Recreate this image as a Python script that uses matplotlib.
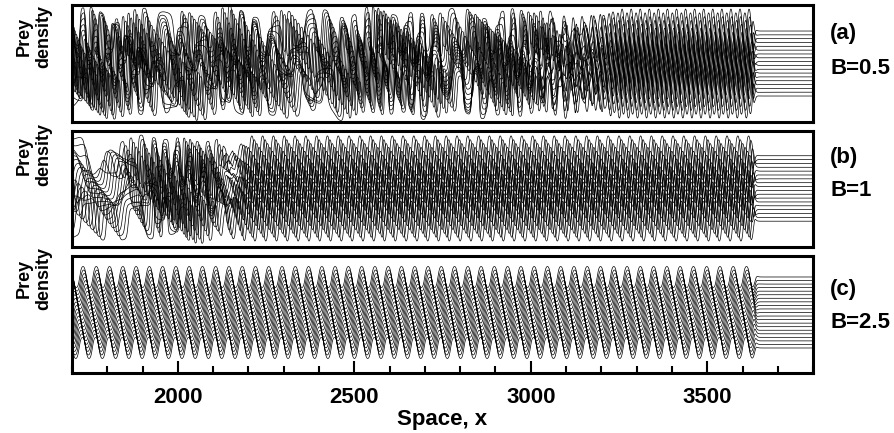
import numpy as np
import matplotlib
matplotlib.use("Agg")
import matplotlib.pyplot as plt
from matplotlib.ticker import MultipleLocator

plt.rcParams['font.family'] = ['Liberation Sans', 'DejaVu Sans']
plt.rcParams['font.weight'] = 'bold'

# labels
panel_tags = ["(a)", "(b)", "(c)"]
b_labels = ["B=0.5", "B=1", "B=2.5"]
x_ticks = [2000, 2500, 3000, 3500]

# curves per panel, flat (pre-invasion) levels of lowest / highest curve,
# wave half-amplitude and invasion front position
n_curves = [18, 18, 21]
flat_low = [26, 26, 25]
flat_high = [91, 92, 96]
wave_amp = [22, 20, 10.5]
front_x = [3632, 3632, 3636]

# where the regular periodic wave train takes over, its wavelength and per-curve lag
reg_start = [3000, 2100, 1600]
reg_end = [3250, 2200, 1700]
reg_lam = [25.7, 30.6, 37.6]
reg_lag = [3.4, 1.4, 0.3]

# irregular zone: local wavelength, irregularity and per-curve phase lag along x
seg_a_x = [1700, 1900, 1960, 2000, 2060, 2130, 2200, 2340, 2420, 2540, 2700, 2780, 2860, 2960, 3800]
seg_a_lam = [26, 28, 45, 30, 40, 28, 27, 50, 40, 26, 27, 45, 28, 26, 26]
seg_a_dis = [1.0, 1.0, 0.7, 1.0, 0.8, 1.0, 1.0, 0.8, 0.8, 1.0, 1.0, 0.7, 1.0, 0.9, 0.9]
seg_a_lag = [0.7] * 15

seg_b_x = [1700, 1850, 1950, 2100, 3800]
seg_b_lam = [110, 100, 27, 30, 30]
seg_b_dis = [0.8, 0.8, 1.0, 0.8, 0.8]
seg_b_lag = [0.35, 0.35, 0.8, 1.2, 1.2]

seg_c_x = [1700, 3800]
seg_c_lam = [37.6, 37.6]
seg_c_dis = [0.0, 0.0]
seg_c_lag = [0.3, 0.3]

segments = [
    (seg_a_x, seg_a_lam, seg_a_dis, seg_a_lag),
    (seg_b_x, seg_b_lam, seg_b_dis, seg_b_lag),
    (seg_c_x, seg_c_lam, seg_c_dis, seg_c_lag),
]

x = np.linspace(1700, 3800, 8000)
dx = x[1] - x[0]


def panel_curves(i):
    sx, slam, sdis, slag = segments[i]
    lam = np.interp(x, sx, slam)
    lag = np.interp(x, sx, slag)
    m = np.clip((x - reg_start[i]) / (reg_end[i] - reg_start[i]), 0, 1)
    dis = np.interp(x, sx, sdis) * (1 - m)
    base_irr = 2 * np.pi * np.cumsum(1 / lam) * dx
    base_reg = 2 * np.pi * x / reg_lam[i]
    w = 0.5 * (1 - np.tanh((x - front_x[i]) / 5))
    offs = np.linspace(flat_low[i], flat_high[i], n_curves[i])
    out = []
    for k, off in enumerate(offs):
        wob = (2.5 * np.sin(2 * np.pi * x / 230 + 0.35 * k)
               + 1.6 * np.sin(2 * np.pi * x / 140 + 0.55 * k + 1)
               + 1.0 * np.sin(2 * np.pi * x / 90 + 0.8 * k + 2))
        th = base_irr + k * lag + dis * wob
        sharp = 1 + 1.2 * dis
        wave_irr = np.tanh(sharp * np.cos(th)) / np.tanh(sharp)
        wave_reg = np.tanh(np.cos(base_reg + k * reg_lag[i])) / np.tanh(1)
        wave = (1 - m) * wave_irr + m * wave_reg
        amp = wave_amp[i] * (1 - 0.3 * dis * (0.5 + 0.5 * np.sin(2 * np.pi * x / 131 + 0.5 * k)))
        drift = 0.15 * wave_amp[i] * dis * np.sin(2 * np.pi * x / 211 + 0.4 * k)
        out.append(off + w * (amp * wave + drift))
    return out


fig = plt.figure(figsize=(8.94, 4.33), dpi=100)
rects = [[0.0805, 0.7182, 0.829, 0.2702],
         [0.0805, 0.4296, 0.829, 0.268],
         [0.0805, 0.1386, 0.829, 0.2702]]
label_y = [36, 155, 278]
tag_y = [33, 157, 289]
bval_y = [68, 190, 323]

for i in range(3):
    ax = fig.add_axes(rects[i])
    for y in panel_curves(i):
        ax.plot(x, y, color='black', lw=0.5)
    ax.set_xlim(1700, 3800)
    ax.set_ylim(0, 117)
    ax.set_yticks([])
    for s in ax.spines.values():
        s.set_linewidth(2.2)
    if i < 2:
        ax.set_xticks([])
    else:
        ax.set_xticks(x_ticks)
        ax.xaxis.set_minor_locator(MultipleLocator(100))
        ax.tick_params(axis='x', which='major', direction='in', length=9, width=1.5,
                       labelsize=16, pad=10)
        ax.tick_params(axis='x', which='minor', direction='in', length=5, width=1.5)
        ax.set_xlabel("Space, x", fontsize=16, fontweight='bold', labelpad=1)
    fig.text(24 / 894, 1 - label_y[i] / 433, "Prey", rotation=90, ha='center', va='center',
             fontsize=13, fontweight='bold')
    fig.text(44 / 894, 1 - label_y[i] / 433, "density", rotation=90, ha='center', va='center',
             fontsize=13, fontweight='bold')
    fig.text(830 / 894, 1 - tag_y[i] / 433, panel_tags[i], ha='left', va='center',
             fontsize=16, fontweight='bold')
    fig.text(830 / 894, 1 - bval_y[i] / 433, b_labels[i], ha='left', va='center',
             fontsize=16, fontweight='bold')

fig.savefig("out.png", dpi=100)
